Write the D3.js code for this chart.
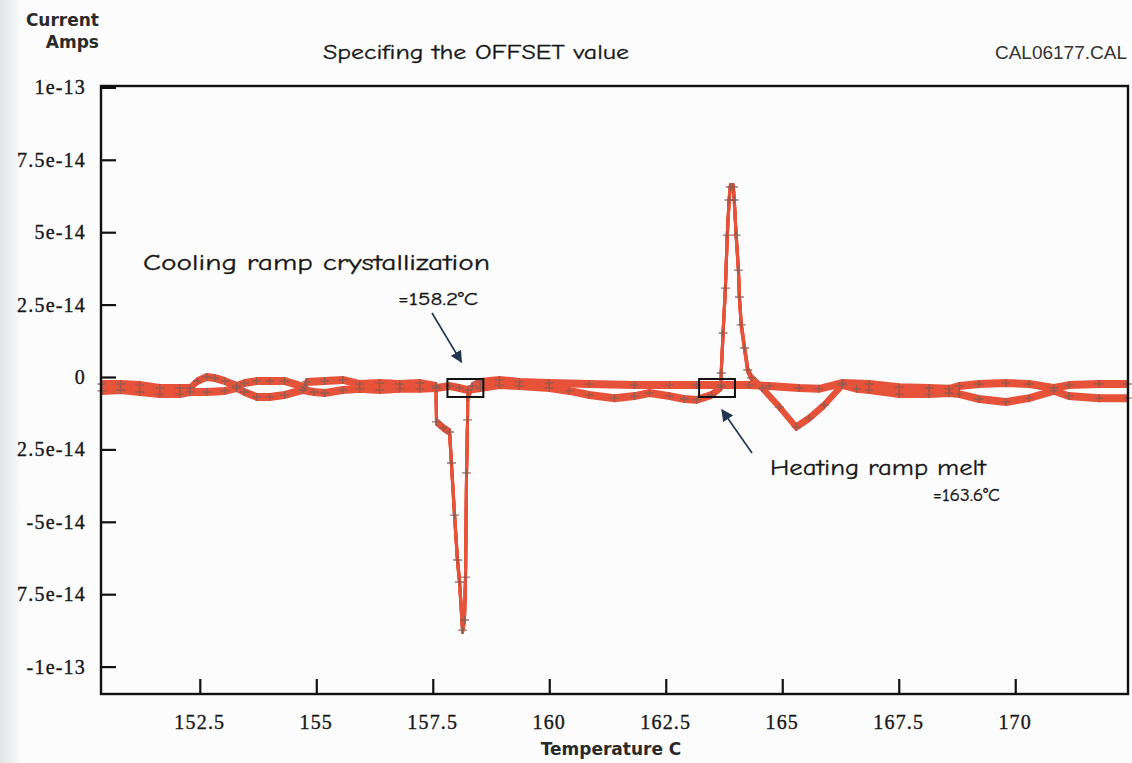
<!DOCTYPE html>
<html>
<head>
<meta charset="utf-8">
<script src="https://cdn.jsdelivr.net/npm/d3@7"></script>
<style>
  body { margin: 0; background: #fff; }
  svg { display: block; }
</style>
</head>
<body>
<svg id="chart" width="1132" height="763"></svg>
<script>
// Tick positions and labels (current in units of 1e-14 A)
const xTickValues = [152.5, 155, 157.5, 160, 162.5, 165, 167.5, 170];
const xTickLabels = ["152.5", "155", "157.5", "160", "162.5", "165", "167.5", "170"];
const yTickValues = [10, 7.5, 5, 2.5, 0, -2.5, -5, -7.5, -10];
const yTickLabels = ["1e-13", "7.5e-14", "5e-14", "2.5e-14", "0", "2.5e-14", "-5e-14", "7.5e-14", "-1e-13"];

// Heating ramp trace (temperature C, current 1e-14 A), in acquisition order
const heatTemp = [150.40, 150.80, 151.21, 151.64, 152.07, 152.29, 152.65, 153.04, 153.29, 153.46,
  153.72, 154.00, 154.32, 154.71, 154.95, 155.18, 155.57, 155.93, 156.36, 156.79,
  157.22, 157.58, 157.86, 158.07, 158.25, 158.52, 158.93, 159.36, 160.00, 160.43,
  160.86, 161.40, 161.83, 162.15, 162.58, 162.90, 163.16, 163.48, 163.69, 163.69,
  163.73, 163.78, 163.82, 163.86, 163.885, 163.95, 163.97, 164.01, 164.06, 164.08,
  164.12, 164.19, 164.26, 164.34, 164.57, 164.94, 165.30, 165.58, 165.90, 166.29,
  166.60, 166.87, 167.51, 168.15, 168.58, 168.80, 169.22, 169.80, 170.30, 170.83,
  171.15, 171.80, 172.40];
const heatCurrent = [-0.48, -0.45, -0.52, -0.59, -0.59, -0.52, -0.52, -0.48, -0.38, -0.52,
  -0.69, -0.69, -0.62, -0.45, -0.52, -0.55, -0.45, -0.41, -0.45, -0.41,
  -0.41, -0.38, -0.31, -0.38, -0.45, -0.38, -0.28, -0.31, -0.38, -0.48,
  -0.62, -0.73, -0.66, -0.55, -0.66, -0.76, -0.79, -0.62, -0.35, 0.14,
  1.52, 3.07, 4.90, 6.11, 6.56, 6.56, 6.11, 4.90, 3.69, 2.76,
  1.80, 1.00, 0.24, -0.03, -0.38, -1.04, -1.73, -1.42, -0.97, -0.28,
  -0.41, -0.45, -0.59, -0.59, -0.55, -0.59, -0.76, -0.86, -0.73, -0.48,
  -0.66, -0.73, -0.73];

// Cooling ramp trace (temperature C, current 1e-14 A), in acquisition order
const coolTemp = [172.40, 171.80, 171.15, 170.83, 170.30, 169.80, 169.22, 168.80, 168.58, 168.15,
  167.51, 166.87, 166.29, 165.79, 165.36, 164.72, 164.29, 163.69, 163.16, 162.58,
  161.83, 160.86, 160.00, 159.36, 158.93, 158.52, 158.35, 158.25, 158.246, 158.225,
  158.203, 158.18, 158.139, 158.075, 158.03, 157.967, 157.90, 157.86, 157.73, 157.58,
  157.57, 157.22, 156.79, 156.36, 155.93, 155.57, 155.18, 154.79, 154.75, 154.32,
  154.00, 153.72, 153.46, 153.29, 153.04, 152.82, 152.65, 152.45, 152.29, 152.07,
  151.64, 151.21, 150.80, 150.40];
const coolCurrent = [-0.24, -0.24, -0.28, -0.38, -0.24, -0.21, -0.24, -0.31, -0.41, -0.38,
  -0.35, -0.24, -0.21, -0.41, -0.38, -0.31, -0.28, -0.28, -0.28, -0.28,
  -0.28, -0.24, -0.21, -0.17, -0.10, -0.17, -0.31, -0.69, -1.48, -3.31,
  -6.91, -8.39, -8.74, -7.08, -6.32, -4.77, -2.97, -1.90, -1.76, -1.55,
  -0.31, -0.21, -0.24, -0.21, -0.24, -0.10, -0.14, -0.17, -0.35, -0.14,
  -0.14, -0.14, -0.21, -0.31, -0.14, -0.035, 0.0, -0.14, -0.38, -0.38,
  -0.38, -0.28, -0.24, -0.24];

// Annotated transition temperatures
const crystallizationTemp = 158.2;
const meltTemp = 163.6;

const svg = d3.select("#chart");
const W = 1132, H = 763;
const plot = { left: 101, right: 1128, top: 86, bottom: 694 };

const x = d3.scaleLinear().domain([150.38, 172.42]).range([plot.left, plot.right]);
const y = d3.scaleLinear().domain([-10.946, 10.048]).range([plot.bottom, plot.top]);

// Paper background with a grey shade along the left edge
const defs = svg.append("defs");
const grad = defs.append("linearGradient").attr("id", "edgeShade")
  .attr("x1", 0).attr("x2", 1).attr("y1", 0).attr("y2", 0);
grad.append("stop").attr("offset", "0%").attr("stop-color", "#e3e5e7");
grad.append("stop").attr("offset", "30%").attr("stop-color", "#e8eaec");
grad.append("stop").attr("offset", "100%").attr("stop-color", "#fcfcfc");
svg.append("rect").attr("width", W).attr("height", H).attr("fill", "#fcfcfc");
svg.append("rect").attr("width", 22).attr("height", H).attr("fill", "url(#edgeShade)");

const comic = "'Comic Sans MS', 'Comic Neue', 'Noto Sans', sans-serif";
const serif = "'Liberation Serif', 'Times New Roman', serif";

// Axes: ticks point into the plot
const gx = svg.append("g").attr("transform", `translate(0,${plot.bottom})`)
  .call(d3.axisTop(x).tickValues(xTickValues).tickSize(15).tickFormat(""));
const gy = svg.append("g").attr("transform", `translate(${plot.left},0)`)
  .call(d3.axisRight(y).tickValues(yTickValues).tickSize(15).tickFormat(""));
[gx, gy].forEach(g => {
  g.select(".domain").remove();
  g.selectAll(".tick line").attr("stroke", "#111").attr("stroke-width", 2.2);
});

// Tick labels
svg.append("g").selectAll("text").data(xTickValues).join("text")
  .attr("x", d => x(d)).attr("y", 729)
  .attr("text-anchor", "middle")
  .attr("font-family", serif).attr("font-size", 20).attr("letter-spacing", 1.2)
  .attr("fill", "#161616").attr("stroke", "#161616").attr("stroke-width", 0.35)
  .text((d, i) => xTickLabels[i]);
svg.append("g").selectAll("text").data(yTickValues).join("text")
  .attr("x", 86).attr("y", d => y(d)).attr("dy", "0.35em")
  .attr("text-anchor", "end")
  .attr("font-family", serif).attr("font-size", 20).attr("letter-spacing", 1.2)
  .attr("fill", "#161616").attr("stroke", "#161616").attr("stroke-width", 0.35)
  .text((d, i) => yTickLabels[i]);

// Traces: a vertically elongated pen, with "+" sample markers
const lineGen = d3.line().x(d => x(d[0])).y(d => y(d[1]));
const heating = heatTemp.map((t, i) => [t, heatCurrent[i]]);
const cooling = coolTemp.map((t, i) => [t, coolCurrent[i]]);
const traceColor = "#e6533a";
const traces = svg.append("g");
[heating, cooling].forEach(series => {
  [-2.5, -1.25, 0, 1.25, 2.5].forEach(off => {
    traces.append("path").datum(series)
      .attr("transform", `translate(0,${off})`)
      .attr("d", lineGen)
      .attr("fill", "none")
      .attr("stroke", traceColor)
      .attr("stroke-width", 3)
      .attr("stroke-linejoin", "round")
      .attr("stroke-linecap", "round");
  });
});
[heating, cooling].forEach(series => {
  traces.append("g").selectAll("path").data(series).join("path")
    .attr("transform", d => `translate(${x(d[0])},${y(d[1])})`)
    .attr("d", "M-4.5,0H4.5M0,-4V4")
    .attr("stroke", "#8b5c52")
    .attr("stroke-width", 1.4)
    .attr("opacity", 0.85);
});

// Plot frame
svg.append("rect")
  .attr("x", plot.left).attr("y", plot.top)
  .attr("width", plot.right - plot.left).attr("height", plot.bottom - plot.top)
  .attr("fill", "none").attr("stroke", "#111").attr("stroke-width", 2.4);

// Boxes around the transition points
const halfWidth = 0.385;
const boxTop = y(-0.07), boxBottom = y(-0.69);
[crystallizationTemp, meltTemp].forEach(t => {
  svg.append("rect")
    .attr("x", x(t - halfWidth)).attr("y", boxTop)
    .attr("width", x(t + halfWidth) - x(t - halfWidth)).attr("height", boxBottom - boxTop)
    .attr("fill", "none").attr("stroke", "#111").attr("stroke-width", 2);
});

// Arrows
const arrowColor = "#1f3550";
defs.append("marker").attr("id", "arrowHead")
  .attr("viewBox", "0 0 10 10").attr("refX", 9).attr("refY", 5)
  .attr("markerWidth", 12).attr("markerHeight", 12).attr("markerUnits", "userSpaceOnUse")
  .attr("orient", "auto")
  .append("path").attr("d", "M0,0L10,5L0,10z").attr("fill", arrowColor);
svg.append("line")
  .attr("x1", 432).attr("y1", 313)
  .attr("x2", x(crystallizationTemp) - 4).attr("y2", boxTop - 17)
  .attr("stroke", arrowColor).attr("stroke-width", 1.6)
  .attr("marker-end", "url(#arrowHead)");
svg.append("line")
  .attr("x1", 752).attr("y1", 453)
  .attr("x2", x(meltTemp) + 5).attr("y2", boxBottom + 13)
  .attr("stroke", arrowColor).attr("stroke-width", 1.6)
  .attr("marker-end", "url(#arrowHead)");

// Annotation text
function label(txt, xPos, yPos, size, len, anchor) {
  svg.append("text")
    .attr("x", xPos).attr("y", yPos)
    .attr("text-anchor", anchor || "start")
    .attr("font-family", comic).attr("font-size", size)
    .attr("fill", "#161616").attr("stroke", "#161616").attr("stroke-width", 0.3)
    .attr("textLength", len).attr("lengthAdjust", "spacingAndGlyphs")
    .text(txt);
}
label("Cooling ramp crystallization", 143, 270, 22, 347);
label(`=${crystallizationTemp.toFixed(1)}°C`, 398, 305, 19, 80);
label("Heating ramp melt", 770, 475, 22, 216);
label(`=${meltTemp.toFixed(1)}°C`, 933, 501, 19, 67);

// Title and axis captions
label("Specifing the OFFSET value", 323, 59, 20, 306);
svg.append("text").attr("x", 99).attr("y", 26).attr("text-anchor", "end")
  .attr("font-family", "'DejaVu Sans', Verdana, sans-serif").attr("font-weight", "bold")
  .attr("font-size", 17).attr("fill", "#2a2a2a").text("Current");
svg.append("text").attr("x", 99).attr("y", 48).attr("text-anchor", "end")
  .attr("font-family", "'DejaVu Sans', Verdana, sans-serif").attr("font-weight", "bold")
  .attr("font-size", 17).attr("fill", "#2a2a2a").text("Amps");
svg.append("text").attr("x", 1127).attr("y", 59).attr("text-anchor", "end")
  .attr("font-family", "'Liberation Sans', Arial, sans-serif")
  .attr("font-size", 19).attr("fill", "#333").text("CAL06177.CAL");
svg.append("text").attr("x", 611).attr("y", 755).attr("text-anchor", "middle")
  .attr("font-family", "'DejaVu Sans', Verdana, sans-serif").attr("font-weight", "bold")
  .attr("font-size", 17).attr("fill", "#2a2a2a").text("Temperature C");
</script>
</body>
</html>
